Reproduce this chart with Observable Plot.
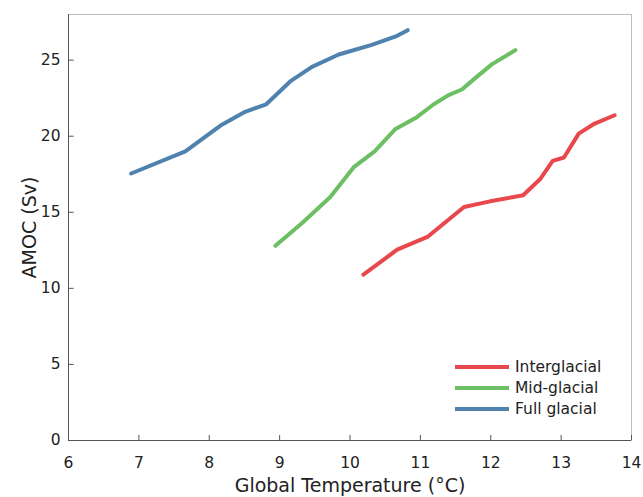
<!DOCTYPE html>
<html>
<head>
<meta charset="utf-8">
<script src="https://cdn.jsdelivr.net/npm/d3@7"></script>
<script src="https://cdn.jsdelivr.net/npm/@observablehq/plot@0.6"></script>
<style>
  html, body { margin: 0; padding: 0; background: #fff; }
  #wrap { position: relative; width: 643px; height: 497px; font-family: "DejaVu Sans", sans-serif; }
  #legend { position: absolute; left: 455px; top: 356px; font-size: 15.5px; color: #222; }
  #legend .row { display: flex; align-items: center; height: 21px; }
  #legend .sw { width: 54px; height: 4px; margin-right: 6px; }
</style>
</head>
<body>
<div id="wrap"></div>
<script>
const seriesNames = ["Interglacial", "Mid-glacial", "Full glacial"];
const seriesColors = ["#e8474c", "#6cbf62", "#4f82ae"];

const interglacialT = [10.19, 10.67, 11.10, 11.62, 11.99, 12.46, 12.70, 12.88, 13.04, 13.25, 13.46, 13.76];
const interglacialA = [10.9, 12.54, 13.38, 15.35, 15.72, 16.12, 17.17, 18.38, 18.6, 20.17, 20.79, 21.38];

const midglacialT = [8.94, 9.32, 9.72, 10.05, 10.35, 10.64, 10.95, 11.19, 11.40, 11.59, 11.80, 12.02, 12.35];
const midglacialA = [12.8, 14.3, 16.0, 17.95, 19.0, 20.45, 21.25, 22.1, 22.7, 23.07, 23.9, 24.74, 25.66];

const fullglacialT = [6.89, 7.66, 8.16, 8.51, 8.81, 9.15, 9.46, 9.84, 10.31, 10.67, 10.82];
const fullglacialA = [17.55, 19.0, 20.7, 21.6, 22.1, 23.6, 24.56, 25.37, 26.0, 26.6, 26.97];

const xTicks = [6, 7, 8, 9, 10, 11, 12, 13, 14];
const yTicks = [0, 5, 10, 15, 20, 25];

const toRows = (name, T, A) => T.map((t, i) => ({series: name, temp: t, amoc: A[i]}));
const data = [
  ...toRows(seriesNames[0], interglacialT, interglacialA),
  ...toRows(seriesNames[1], midglacialT, midglacialA),
  ...toRows(seriesNames[2], fullglacialT, fullglacialA)
];

const chart = Plot.plot({
  width: 643,
  height: 497,
  marginLeft: 68,
  marginRight: 12,
  marginTop: 14,
  marginBottom: 57,
  style: {fontFamily: "DejaVu Sans, sans-serif", fontSize: "15px", color: "#222", background: "#fff"},
  x: {domain: [6, 14]},
  y: {domain: [0, 28]},
  color: {domain: seriesNames, range: seriesColors},
  marks: [
    Plot.frame({stroke: "#bdbdbd", strokeWidth: 1}),
    Plot.line(data, {x: "temp", y: "amoc", z: "series", stroke: "series", strokeWidth: 4, strokeLinejoin: "round"}),
    Plot.ruleY([0], {stroke: "#555"}),
    Plot.ruleX([6], {stroke: "#555"}),
    Plot.axisX({ticks: xTicks, tickSize: 0, tickPadding: 16, fontSize: 15.5, label: "Global Temperature (°C)", labelAnchor: "center", labelArrow: "none", labelOffset: 51, fill: "#222"}),
    Plot.ruleX(xTicks, {x: d => d, y1: 0, y2: 0.33, stroke: "#555"}),
    Plot.axisY({ticks: yTicks, tickSize: 0, tickPadding: 8, fontSize: 15.5, label: "AMOC (Sv)", labelAnchor: "center", labelArrow: "none", labelOffset: 46, fill: "#222"}),
    Plot.ruleY(yTicks, {y: d => d, x1: 6, x2: 6.08, stroke: "#555"})
  ]
});

chart.querySelectorAll("g[aria-label='x-axis label'] text, g[aria-label='y-axis label'] text").forEach(t => t.setAttribute("font-size", "19"));

const wrap = document.getElementById("wrap");
wrap.appendChild(chart);

const legend = document.createElement("div");
legend.id = "legend";
seriesNames.forEach((n, i) => {
  const row = document.createElement("div");
  row.className = "row";
  const sw = document.createElement("div");
  sw.className = "sw";
  sw.style.background = seriesColors[i];
  const lab = document.createElement("span");
  lab.textContent = n;
  row.appendChild(sw);
  row.appendChild(lab);
  legend.appendChild(row);
});
wrap.appendChild(legend);
</script>
</body>
</html>
